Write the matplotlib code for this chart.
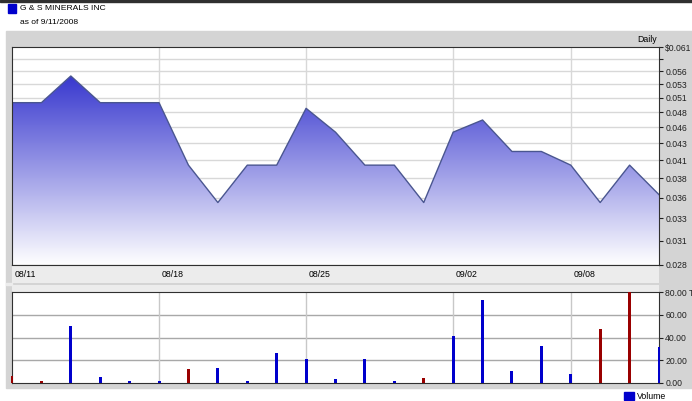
import numpy as np
import matplotlib
matplotlib.use("Agg")
import matplotlib.pyplot as plt
from matplotlib.patches import Rectangle

# trading days 08/11 .. 09/11 (labor day skipped)
days = ["08/11", "08/12", "08/13", "08/14", "08/15",
        "08/18", "08/19", "08/20", "08/21", "08/22",
        "08/25", "08/26", "08/27", "08/28", "08/29",
        "09/02", "09/03", "09/04", "09/05",
        "09/08", "09/09", "09/10", "09/11"]
price = [0.050, 0.050, 0.055, 0.050, 0.050,
         0.050, 0.040, 0.035, 0.040, 0.040,
         0.049, 0.045, 0.040, 0.040, 0.035,
         0.045, 0.047, 0.042, 0.042,
         0.040, 0.035, 0.040, 0.036]
volume = [6.5, 1.5, 50.0, 5.3, 1.8,
          1.8, 12.6, 13.5, 1.8, 26.8,
          20.9, 3.5, 21.2, 1.8, 4.7,
          40.9, 73.2, 10.6, 32.9,
          7.9, 47.3, 80.0, 32.0]
vol_up = [0, 0, 1, 1, 1,
          1, 0, 1, 1, 1,
          1, 1, 1, 1, 0,
          1, 1, 1, 1,
          1, 0, 0, 1]
date_ticks = ["08/11", "08/18", "08/25", "09/02", "09/08"]
price_labels = ["0.028", "0.031", "0.033", "0.036", "0.038", "0.041", "0.043",
                "0.046", "0.048", "0.051", "0.053", "0.056", "", "$0.061"]
vol_ticks = [0, 20, 40, 60, 80]
vol_labels = ["0.00", "20.00", "40.00", "60.00", "80.00 Th"]

W, H = 692, 401
fig = plt.figure(figsize=(W / 100, H / 100), dpi=100)
fig.patch.set_facecolor("white")
plt.rcParams['font.family'] = ['Liberation Sans', 'DejaVu Sans']

def box(x0, y0, x1, y1):
    return [x0 / W, 1 - y1 / H, (x1 - x0) / W, (y1 - y0) / H]

# gray panel + top black rule
fig.patches.append(Rectangle((6 / W, 1 - 388 / H), 1, (388 - 31) / H,
                             transform=fig.transFigure, color="#d4d4d4", zorder=-10))
fig.patches.append(Rectangle((0, 1 - 2 / H), 1, 2 / H,
                             transform=fig.transFigure, color="#303030", zorder=-10))
fig.patches.append(Rectangle((6 / W, 1 - 285 / H), 6 / W, 2 / H,
                             transform=fig.transFigure, color="#ececec", zorder=-5))

# title
fig.patches.append(Rectangle((8 / W, 1 - 13 / H), 8 / W, 9 / H,
                             transform=fig.transFigure, color="#0000cc"))
fig.text(20 / W, 1 - 8.5 / H, "G & S MINERALS INC", fontsize=6.1, va="center")
fig.text(20 / W, 1 - 22 / H, "as of 9/11/2008", fontsize=6.1, va="center")
fig.text(657 / W, 1 - 39 / H, "Daily", fontsize=6.3, ha="right", va="center")

x = np.arange(len(days))
tick_pos = [days.index(d) for d in date_ticks]

# ---- price panel
ax = fig.add_axes(box(12, 47, 659, 265))
ax.set_yscale("log")
ax.set_xlim(0, len(days) - 1)
ax.set_ylim(0.028, 0.061)
pticks = np.linspace(0.028, 0.061, len(price_labels))
ax.set_yticks(pticks)
ax.set_yticklabels(price_labels)
ax.yaxis.set_minor_locator(matplotlib.ticker.NullLocator())
ax.yaxis.tick_right()
ax.tick_params(axis="y", direction="out", length=3, labelsize=6.2, pad=1.5, colors="#202020")
ax.set_xticks(tick_pos)
ax.tick_params(axis="x", length=0, labelbottom=False)
for t in pticks[1:-1]:
    ax.axhline(t, color="#d8d8d8", lw=1, zorder=0)
for t in tick_pos[1:]:
    ax.axvline(t, color="#d8d8d8", lw=1, zorder=0)

poly = ax.fill_between(x, price, 0.028, facecolor="none", edgecolor="none")
grad = np.linspace(0, 1, 256)[:, None]
top = np.array([0.10, 0.10, 0.78])
cols = top[None, :] + (1 - top[None, :]) * grad
img = ax.imshow(np.repeat(cols[:, None, :], 2, axis=1), extent=[0, 1, 0, 1],
                transform=ax.transAxes, aspect="auto", zorder=1, origin="upper")
img.set_clip_path(poly.get_paths()[0], transform=ax.transData)
ax.plot(x, price, color="#4a5690", lw=1, zorder=2)
for s in ax.spines.values():
    s.set_color("#303030")

# date strip
ds = fig.add_axes(box(12, 265, 659, 283))
ds.set_facecolor("#ececec")
ds.set_xlim(0, len(days) - 1)
ds.set_ylim(0, 1)
ds.set_xticks([])
ds.set_yticks([])
for t, lab in zip(tick_pos, date_ticks):
    ds.text(t + 0.08, 0.45, lab, fontsize=6.3, va="center", ha="left")
for k in ["left", "right", "bottom"]:
    ds.spines[k].set_visible(False)
ds.spines["top"].set_color("#303030")

st = fig.add_axes(box(12, 285, 659, 292))
st.set_facecolor("#ececec")
st.set_xticks([])
st.set_yticks([])
for s in st.spines.values():
    s.set_visible(False)

# ---- volume panel
av = fig.add_axes(box(12, 292, 659, 383))
av.set_xlim(0, len(days) - 1)
av.set_ylim(0, 80)
av.set_yticks(vol_ticks)
av.set_yticklabels(vol_labels)
av.yaxis.tick_right()
av.tick_params(axis="y", direction="out", length=3, labelsize=6.2, pad=1.5, colors="#202020")
av.set_xticks([])
for t in vol_ticks[1:-1]:
    av.axhline(t, color="#a8a8a8", lw=1, zorder=0)
for t in tick_pos[1:]:
    av.axvline(t, color="#c8c8c8", lw=1, zorder=0)
bar_cols = ["#0000cc" if u else "#990000" for u in vol_up]
bars = av.bar(x, volume, width=0.1, color=bar_cols, zorder=3)
for b in bars:
    b.set_clip_on(False)
for s in av.spines.values():
    s.set_color("#303030")

# legend
fig.patches.append(Rectangle((624 / W, 1 - 400 / H), 10 / W, 8 / H,
                             transform=fig.transFigure, color="#0000cc"))
fig.text(637 / W, 1 - 396.5 / H, "Volume", fontsize=6.3, va="center")

fig.savefig("out.png", dpi=100)
